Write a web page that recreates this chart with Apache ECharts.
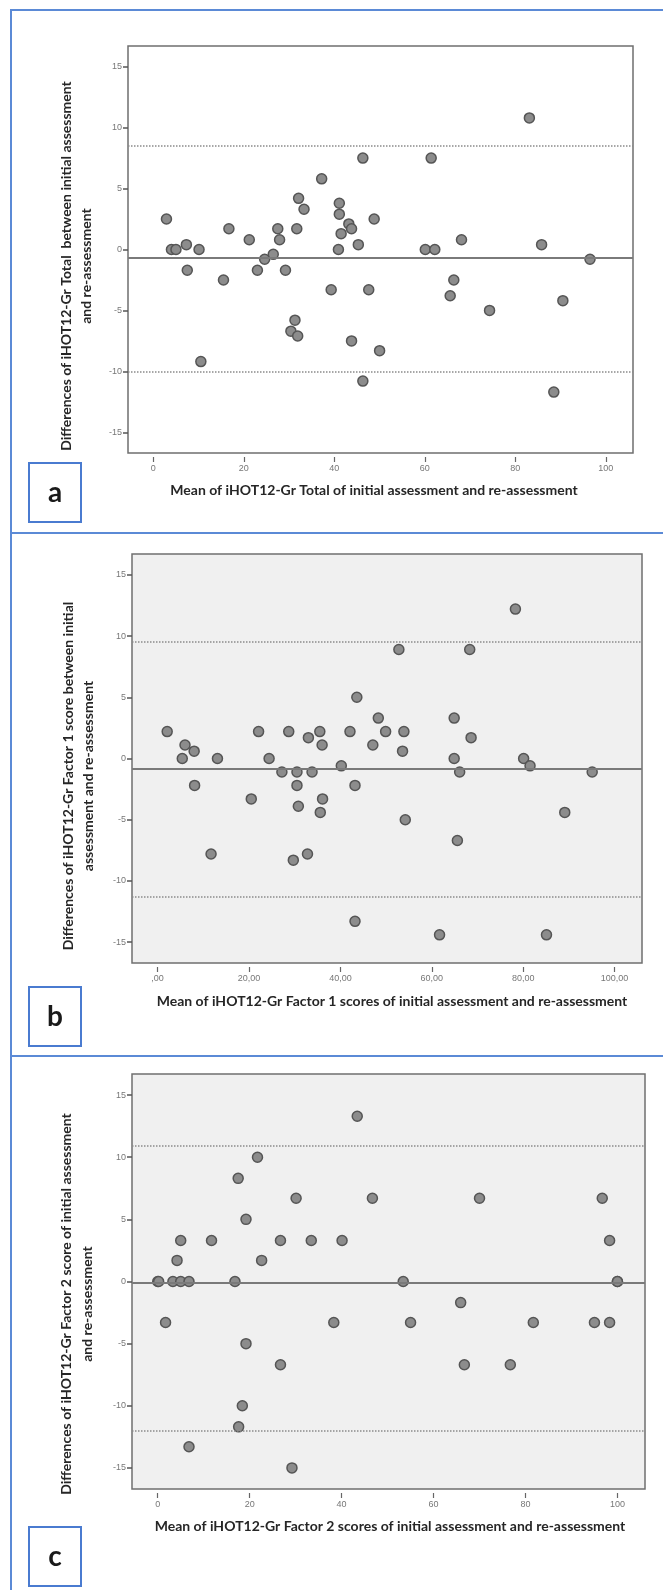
<!DOCTYPE html>
<html>
<head>
<meta charset="utf-8">
<script src="https://cdn.jsdelivr.net/npm/echarts@6/dist/echarts.min.js"></script>
<style>
html, body { margin: 0; padding: 0; background: #fff; }
#main { width: 663px; height: 1590px; }
</style>
</head>
<body>
<div id="main"></div>
<script>
// panel a: iHOT12-Gr Total
var aX = [2.9, 4.0, 5.0, 7.3, 7.5, 10.1, 10.5, 15.5, 16.7, 21.2, 23.0, 24.6, 26.5, 27.5, 27.9, 29.2, 30.4, 31.3, 31.7, 32.1, 31.9, 33.3, 37.2, 39.3, 40.9, 41.1, 41.1, 41.5, 43.2, 43.8, 43.8, 45.3, 46.3, 46.3, 47.6, 48.8, 50.0, 60.1, 61.4, 62.2, 65.6, 66.4, 68.1, 74.3, 83.1, 85.8, 88.5, 90.5, 96.5];
var aY = [2.5, 0, 0, 0.4, -1.7, 0, -9.2, -2.5, 1.7, 0.8, -1.7, -0.8, -0.4, 1.7, 0.8, -1.7, -6.7, -5.8, 1.7, 4.2, -7.1, 3.3, 5.8, -3.3, 0, 3.8, 2.9, 1.3, 2.1, 1.7, -7.5, 0.4, 7.5, -10.8, -3.3, 2.5, -8.3, 0, 7.5, 0, -3.8, -2.5, 0.8, -5.0, 10.8, 0.4, -11.7, -4.2, -0.8];
var aLines = [8.5, -0.7, -10.0]; // upper limit, mean, lower limit

// panel b: Factor 1
var bX = [2.1, 5.4, 6.0, 8.0, 8.1, 11.7, 13.1, 20.5, 22.1, 24.4, 27.2, 28.7, 29.7, 30.5, 30.5, 30.8, 32.8, 33.0, 33.8, 35.5, 35.6, 36.0, 36.1, 40.2, 42.1, 43.2, 43.2, 43.6, 47.1, 48.3, 49.9, 52.8, 53.6, 53.9, 54.2, 61.7, 64.9, 64.9, 65.6, 66.1, 68.3, 68.6, 78.3, 80.1, 81.5, 85.1, 89.1, 95.1];
var bY = [2.2, 0, 1.1, 0.6, -2.2, -7.8, 0, -3.3, 2.2, 0, -1.1, 2.2, -8.3, -1.1, -2.2, -3.9, -7.8, 1.7, -1.1, 2.2, -4.4, 1.1, -3.3, -0.6, 2.2, -2.2, -13.3, 5.0, 1.1, 3.3, 2.2, 8.9, 0.6, 2.2, -5.0, -14.4, 3.3, 0, -6.7, -1.1, 8.9, 1.7, 12.2, 0, -0.6, -14.4, -4.4, -1.1];
var bLines = [9.5, -0.85, -11.3];

// panel c: Factor 2
var cX = [0, 0.2, 1.7, 3.3, 4.2, 5.0, 5.0, 6.8, 6.8, 11.7, 16.8, 17.5, 17.6, 18.4, 19.2, 19.2, 21.7, 22.6, 26.7, 26.7, 29.2, 30.1, 33.4, 38.3, 40.1, 43.4, 46.7, 53.4, 55.0, 65.9, 66.7, 70.0, 76.7, 81.7, 95.0, 96.7, 98.3, 98.3, 100, 100];
var cY = [0, 0, -3.3, 0, 1.7, 3.3, 0, 0, -13.3, 3.3, 0, 8.3, -11.7, -10, 5, -5, 10, 1.7, 3.3, -6.7, -15, 6.7, 3.3, -3.3, 3.3, 13.3, 6.7, 0, -3.3, -1.7, -6.7, 6.7, -6.7, -3.3, -3.3, 6.7, 3.3, -3.3, 0, 0];
var cLines = [10.9, -0.1, -12.0];

var xTicks = [0, 20, 40, 60, 80, 100];
var yTicks = [-15, -10, -5, 0, 5, 10, 15];

var xTitles = [
  'Mean of iHOT12-Gr Total of initial assessment and re-assessment',
  'Mean of iHOT12-Gr Factor 1 scores of initial assessment and re-assessment',
  'Mean of iHOT12-Gr Factor 2 scores of initial assessment and re-assessment'
];
var yTitles = [
  ['Differences of iHOT12-Gr Total  between initial assessment', 'and re-assessment'],
  ['Differences of iHOT12-Gr Factor 1 score between initial', 'assessment and re-assessment'],
  ['Differences of iHOT12-Gr Factor 2 score of initial assessment', 'and re-assessment']
];
var panelLetters = ['a', 'b', 'c'];

var grids = [
  { left: 128, top: 46, width: 505, height: 407, show: true, borderColor: '#6f6f6f', borderWidth: 1.5, backgroundColor: '#ffffff' },
  { left: 132, top: 554, width: 510, height: 409, show: true, borderColor: '#6f6f6f', borderWidth: 1.5, backgroundColor: '#f0f0f0' },
  { left: 132, top: 1074, width: 513, height: 415, show: true, borderColor: '#6f6f6f', borderWidth: 1.5, backgroundColor: '#f0f0f0' }
];

function pairs(xs, ys) {
  var out = [];
  for (var i = 0; i < xs.length; i++) out.push([xs[i], ys[i]]);
  return out;
}

var xAxes = [], yAxes = [], series = [];
var allX = [aX, bX, cX], allY = [aY, bY, cY], allLines = [aLines, bLines, cLines];

for (var i = 0; i < 3; i++) {
  xAxes.push({
    type: 'value', gridIndex: i, min: -5.6, max: 106, offset: 4,
    splitLine: { show: false },
    axisLine: { show: false, onZero: false },
    axisTick: { show: true, length: 5, customValues: xTicks, lineStyle: { color: '#666', width: 1.2 } },
    axisLabel: {
      customValues: xTicks, fontSize: 9, color: '#777', margin: 7, fontFamily: 'Liberation Sans',
      formatter: i === 1 ? function (v) { return v === 0 ? ',00' : v + ',00'; } : '{value}'
    }
  });
  yAxes.push({
    type: 'value', gridIndex: i, min: -16.7, max: 16.7,
    splitLine: { show: false },
    axisLine: { show: false, onZero: false },
    axisTick: { show: true, length: 5, customValues: yTicks, lineStyle: { color: '#555', width: 1.5 } },
    axisLabel: { customValues: yTicks, fontSize: 9, color: '#777', margin: 6, fontFamily: 'Liberation Sans' }
  });
  var l = allLines[i];
  series.push({
    type: 'scatter', xAxisIndex: i, yAxisIndex: i,
    data: pairs(allX[i], allY[i]),
    symbolSize: 10,
    itemStyle: { color: '#8c8c8c', borderColor: '#555555', borderWidth: 1.5, opacity: 1 },
    z: 3,
    markLine: {
      silent: true, symbol: 'none', label: { show: false }, animation: false,
      data: [
        { yAxis: l[0], lineStyle: { type: 'dotted', color: '#8a8a8a', width: 1.5 } },
        { yAxis: l[1], lineStyle: { type: 'solid', color: '#7a7a7a', width: 2.2 } },
        { yAxis: l[2], lineStyle: { type: 'dotted', color: '#8a8a8a', width: 1.5 } }
      ]
    }
  });
}

// title / frame positions
var xTitlePos = [[374, 490], [392, 1001], [390, 1526]];
var yTitlePos = [[[66, 266], [86, 266]], [[68, 776], [88, 776]], [[66, 1304], [87, 1304]]];
var boxTop = [463, 987, 1527];
var titleFont = 'bold 14px Lato';

var graphic = [
  { type: 'rect', shape: { x: 11, y: 10, width: 670, height: 1600 }, style: { fill: 'none', stroke: '#5b8ad6', lineWidth: 2 }, z: 1 },
  { type: 'line', shape: { x1: 11, y1: 533, x2: 663, y2: 533 }, style: { stroke: '#5b8ad6', lineWidth: 2 } },
  { type: 'line', shape: { x1: 11, y1: 1056, x2: 663, y2: 1056 }, style: { stroke: '#5b8ad6', lineWidth: 2 } }
];
for (var k = 0; k < 3; k++) {
  graphic.push({
    type: 'text', x: xTitlePos[k][0], y: xTitlePos[k][1],
    style: { text: xTitles[k], font: titleFont, fill: '#262626', textAlign: 'center', textVerticalAlign: 'middle' }
  });
  for (var j = 0; j < 2; j++) {
    graphic.push({
      type: 'text', x: yTitlePos[k][j][0], y: yTitlePos[k][j][1], rotation: Math.PI / 2,
      style: { text: yTitles[k][j], font: titleFont, fill: '#262626', textAlign: 'center', textVerticalAlign: 'middle' }
    });
  }
  graphic.push({
    type: 'rect', shape: { x: 29, y: boxTop[k], width: 52, height: 59 },
    style: { fill: '#fff', stroke: '#4a7bd0', lineWidth: 2 }
  });
  graphic.push({
    type: 'text', x: 55, y: boxTop[k] + 30,
    style: { text: panelLetters[k], font: 'bold 28px Lato', fill: '#1a1a1a', textAlign: 'center', textVerticalAlign: 'middle' }
  });
}

var myChart = echarts.init(document.getElementById('main'));
myChart.setOption({
  animation: false,
  backgroundColor: '#ffffff',
  grid: grids,
  xAxis: xAxes,
  yAxis: yAxes,
  series: series,
  graphic: graphic
});
</script>
</body>
</html>
